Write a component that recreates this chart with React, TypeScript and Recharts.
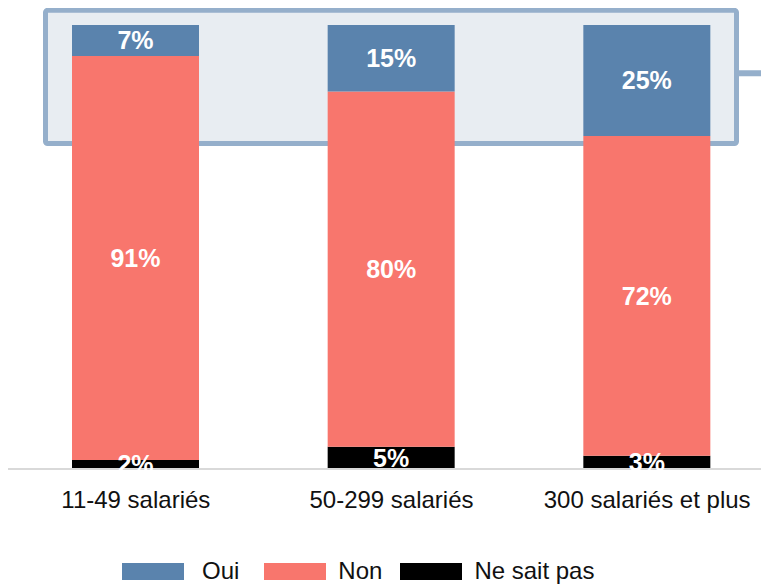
import React from "react";
import { BarChart, Bar, XAxis, YAxis, LabelList, Legend, ReferenceArea } from "recharts";

const categories = ["11-49 salariés", "50-299 salariés", "300 salariés et plus"];
const oui = [7, 15, 25];
const non = [91, 80, 72];
const neSaitPas = [2, 5, 3];

const data = categories.map((name, i) => ({
  name,
  oui: oui[i],
  non: non[i],
  nsp: neSaitPas[i],
}));

const FONT = "'Liberation Sans', Arial, sans-serif";
const BLUE = "#5a83ad";
const SALMON = "#f8766d";
const BLACK = "#000000";

// legend spacing in the original isn't uniform
const legendGaps: Record<string, { text: number; after: number }> = {
  Oui: { text: 18, after: 25 },
  Non: { text: 12, after: 18 },
  "Ne sait pas": { text: 12, after: 0 },
};

// highlight box around the "Oui" segments, with a short connector running off to the right
function HighlightBox(props: any) {
  const { x, y, width, height } = props;
  const left = x + 37.5;
  const right = x + width - 38.5;
  const lineY = y + height * 0.473;
  return (
    <g>
      <rect
        x={left}
        y={y}
        width={right - left}
        height={height}
        rx={2}
        fill="#e8edf2"
        stroke="#95afcb"
        strokeWidth={5}
      />
      <line x1={right + 2.5} y1={lineY} x2={x + width} y2={lineY} stroke="#95afcb" strokeWidth={6} />
    </g>
  );
}

function LegendContent(props: any) {
  const items = props.payload || [];
  return (
    <div style={{ display: "flex", height: 20, alignItems: "center", paddingLeft: 114, fontFamily: FONT }}>
      {items.map((it: any) => {
        const g = legendGaps[it.value] || { text: 12, after: 20 };
        return (
          <div key={it.value} style={{ display: "flex", alignItems: "center", marginRight: g.after }}>
            <span style={{ width: 62, height: 17, background: it.color, display: "inline-block" }} />
            <span style={{ fontSize: 24, color: "#111", marginLeft: g.text, lineHeight: "20px" }}>{it.value}</span>
          </div>
        );
      })}
    </div>
  );
}

const pct = (v: any) => `${v}%`;
const labelStyle = { fill: "#ffffff", fontSize: 25, fontWeight: 700, fontFamily: FONT };

export default function App() {
  return (
    <div style={{ width: 761, height: 576, overflow: "hidden" }}>
      <BarChart
        width={767}
        height={576}
        data={data}
        margin={{ top: 17, right: 0, left: 0, bottom: 3 }}
        barSize={127}
      >
        <YAxis hide domain={[0, 100]} />
        <ReferenceArea y1={73.3} y2={103.3} ifOverflow="visible" shape={<HighlightBox />} />
        <XAxis
          dataKey="name"
          height={92}
          tickLine={false}
          tickMargin={16}
          axisLine={{ stroke: "#d9d9d9", strokeWidth: 2 }}
          tick={{ fontSize: 24, fill: "#111", fontFamily: FONT }}
          interval={0}
        />
        <Bar dataKey="nsp" name="Ne sait pas" stackId="a" fill={BLACK} isAnimationActive={false}>
          <LabelList dataKey="nsp" position="center" formatter={pct} style={labelStyle} />
        </Bar>
        <Bar dataKey="non" name="Non" stackId="a" fill={SALMON} isAnimationActive={false}>
          <LabelList dataKey="non" position="center" formatter={pct} style={labelStyle} />
        </Bar>
        <Bar dataKey="oui" name="Oui" stackId="a" fill={BLUE} isAnimationActive={false}>
          <LabelList dataKey="oui" position="center" formatter={pct} style={labelStyle} />
        </Bar>
        <Legend
          verticalAlign="bottom"
          content={(p: any) => <LegendContent payload={[...(p.payload || [])].reverse()} />}
        />
      </BarChart>
    </div>
  );
}
